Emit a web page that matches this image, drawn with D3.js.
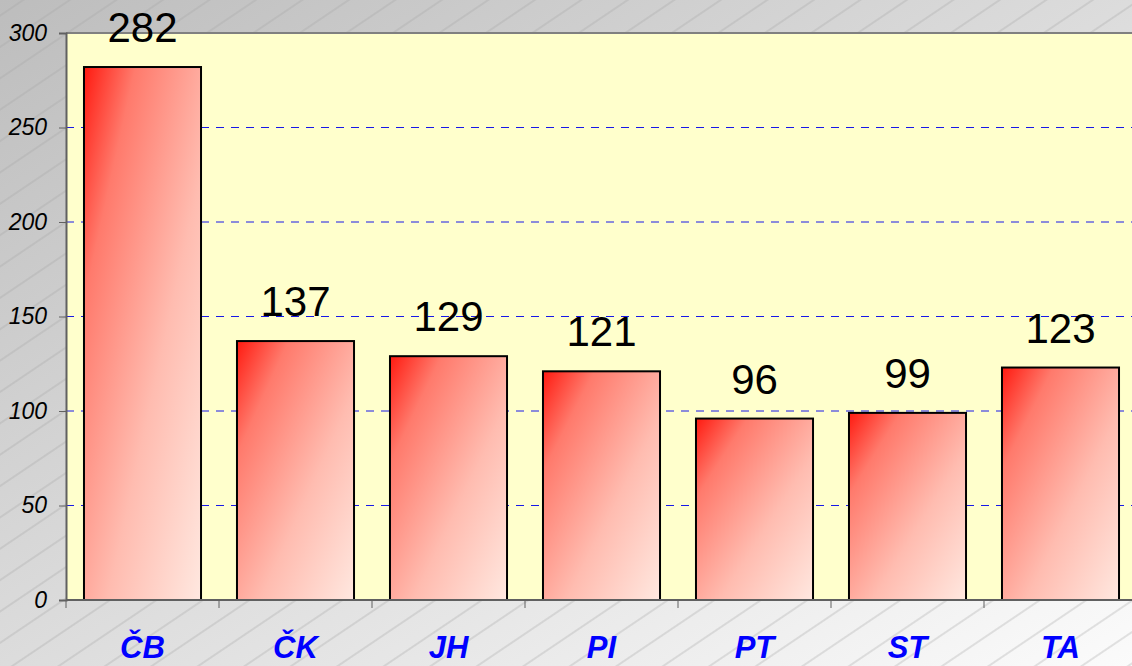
<!DOCTYPE html>
<html>
<head>
<meta charset="UTF-8">
<script src="https://d3js.org/d3.v7.min.js"></script>
<style>
  body { margin: 0; overflow: hidden; font-family: Arial, "Liberation Sans", sans-serif; }
  svg { display: block; }
</style>
</head>
<body>
<script>
// data
const categories = ['ČB', 'ČK', 'JH', 'PI', 'PT', 'ST', 'TA'];
const values = [282, 137, 129, 121, 96, 99, 123];
const yTicks = [0, 50, 100, 150, 200, 250, 300];

const W = 1132, H = 666;
const margin = { top: 33, left: 66, bottom: 66 };
const plotRight = 66 + 7 * 153;

const svg = d3.select('body').append('svg')
  .attr('width', W)
  .attr('height', H);

const defs = svg.append('defs');

// page background: grey diagonal gradient + hatch
const bg = defs.append('linearGradient').attr('id', 'bgGrad')
  .attr('x1', 0).attr('y1', 0).attr('x2', 1).attr('y2', 1);
bg.append('stop').attr('offset', '0%').attr('stop-color', '#bdbdbd');
bg.append('stop').attr('offset', '100%').attr('stop-color', '#fbfbfb');

const hatch = defs.append('pattern').attr('id', 'hatch')
  .attr('patternUnits', 'userSpaceOnUse')
  .attr('width', 26).attr('height', 26)
  .attr('patternTransform', 'rotate(-34)');
hatch.append('line')
  .attr('x1', 0).attr('y1', 13).attr('x2', 26).attr('y2', 13)
  .attr('stroke', '#a4a4a4').attr('stroke-width', 0.6);

// bar gradient
const barGrad = defs.append('linearGradient').attr('id', 'barGrad')
  .attr('x1', 0).attr('y1', 0).attr('x2', 1).attr('y2', 1);
barGrad.append('stop').attr('offset', '0%').attr('stop-color', '#ff1a10');
barGrad.append('stop').attr('offset', '22%').attr('stop-color', '#ff7a6c');
barGrad.append('stop').attr('offset', '60%').attr('stop-color', '#ffbcb0');
barGrad.append('stop').attr('offset', '100%').attr('stop-color', '#ffe8e0');

svg.append('rect').attr('width', W).attr('height', H).attr('fill', 'url(#bgGrad)');
svg.append('rect').attr('width', W).attr('height', H).attr('fill', 'url(#hatch)');

// scales
const x = d3.scaleBand()
  .domain(categories)
  .range([margin.left, plotRight])
  .paddingInner(0.235)
  .paddingOuter(0.1175);

const y = d3.scaleLinear()
  .domain([0, 300])
  .range([H - margin.bottom, margin.top]);

// plot area
svg.append('rect')
  .attr('x', margin.left)
  .attr('y', y(300))
  .attr('width', plotRight - margin.left)
  .attr('height', y(0) - y(300))
  .attr('fill', '#ffffcc');

// grid lines
svg.append('g')
  .selectAll('line')
  .data(yTicks.filter(d => d > 0 && d < 300))
  .join('line')
  .attr('x1', margin.left)
  .attr('x2', plotRight)
  .attr('y1', d => y(d))
  .attr('y2', d => y(d))
  .attr('stroke', '#1818e8')
  .attr('stroke-width', 1)
  .attr('stroke-dasharray', '8,7');

// top border of plot
svg.append('line')
  .attr('x1', margin.left).attr('x2', plotRight)
  .attr('y1', y(300)).attr('y2', y(300))
  .attr('stroke', '#808080').attr('stroke-width', 2);

// bars
svg.append('g')
  .selectAll('rect')
  .data(values)
  .join('rect')
  .attr('x', (d, i) => x(categories[i]))
  .attr('y', d => y(d))
  .attr('width', x.bandwidth())
  .attr('height', d => y(0) - y(d))
  .attr('fill', 'url(#barGrad)')
  .attr('stroke', '#000')
  .attr('stroke-width', 2);

// value labels
svg.append('g')
  .selectAll('text')
  .data(values)
  .join('text')
  .attr('x', (d, i) => x(categories[i]) + x.bandwidth() / 2)
  .attr('y', d => y(d) - 25)
  .attr('text-anchor', 'middle')
  .attr('font-size', 42)
  .attr('fill', '#000')
  .text(d => d);

// y axis
const yAxis = d3.axisLeft(y).tickValues(yTicks).tickSize(7).tickPadding(12);
const gy = svg.append('g')
  .attr('transform', 'translate(' + margin.left + ',0)')
  .call(yAxis)
  .attr('font-size', 23)
  .attr('font-family', 'Arial, "Liberation Sans", sans-serif');
gy.select('.domain').attr('stroke', '#606060').attr('stroke-width', 2);
gy.selectAll('.tick line').attr('stroke', '#606060');
gy.selectAll('.tick text')
  .style('font-size', '23px')
  .style('font-style', 'italic')
  .attr('fill', '#000');

// x axis: ticks at band boundaries
const step = x.step();
const bounds = d3.range(categories.length + 1).map(i => margin.left + i * step);
svg.append('line')
  .attr('x1', margin.left).attr('x2', plotRight)
  .attr('y1', y(0)).attr('y2', y(0))
  .attr('stroke', '#606060').attr('stroke-width', 2);
svg.append('g')
  .selectAll('line')
  .data(bounds)
  .join('line')
  .attr('x1', d => d).attr('x2', d => d)
  .attr('y1', y(0)).attr('y2', y(0) + 8)
  .attr('stroke', '#606060');

svg.append('g')
  .selectAll('text')
  .data(categories)
  .join('text')
  .attr('x', d => x(d) + x.bandwidth() / 2)
  .attr('y', 658)
  .attr('text-anchor', 'middle')
  .attr('font-size', 31)
  .attr('font-weight', 'bold')
  .attr('font-style', 'italic')
  .attr('fill', '#0000ff')
  .text(d => d);
</script>
</body>
</html>
